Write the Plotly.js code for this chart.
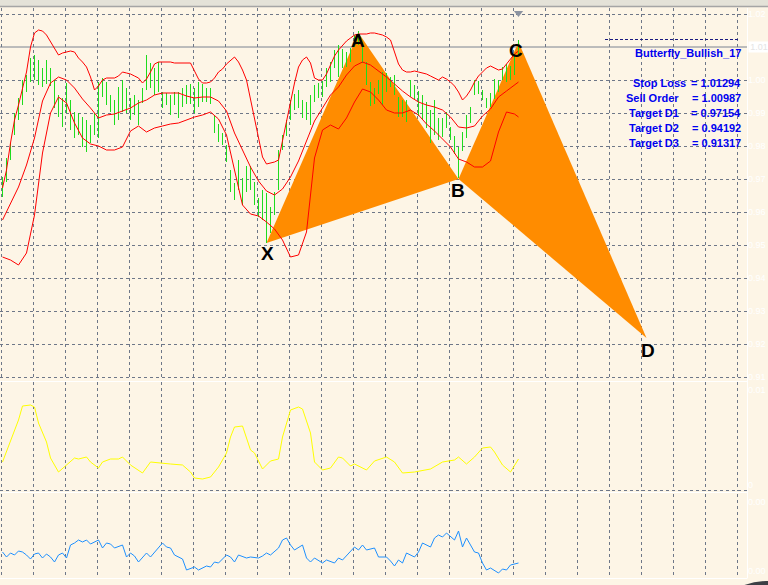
<!DOCTYPE html>
<html>
<head>
<meta charset="utf-8">
<script src="https://cdn.plot.ly/plotly-3.0.1.min.js"></script>
<style>html,body{margin:0;padding:0;background:#FDF5E6;}#chart{width:768px;height:585px;}</style>
</head>
<body>
<div id="chart"></div>
<script>
// ---------- DATA ----------
// Price bars: high / low per bar
const highs = [0.9669,0.9726,0.9771,0.9861,0.9906,0.9960,0.9975,1.0026,1.0035,1.0020,
0.9996,1.0020,0.9996,0.9960,0.9915,0.9906,0.9951,0.9900,0.9864,0.9861,
0.9849,0.9840,0.9825,0.9861,0.9954,0.9966,0.9954,0.9915,0.9900,0.9939,
0.9960,0.9936,0.9906,0.9915,0.9900,0.9936,1.0035,1.0011,0.9996,1.0014,
0.9924,0.9921,0.9915,0.9924,0.9924,0.9936,0.9945,0.9948,0.9936,0.9954,
0.9948,0.9936,0.9936,0.9855,0.9828,0.9801,0.9765,0.9690,0.9651,0.9720,
0.9666,0.9702,0.9702,0.9654,0.9606,0.9630,0.9621,0.9579,0.9624,0.9750,
0.9795,0.9840,0.9900,0.9918,0.9930,0.9900,0.9894,0.9915,0.9945,0.9951,
0.9957,0.9996,1.0014,1.0050,1.0065,1.0053,1.0044,1.0056,1.0095,1.0107,
1.0065,1.0014,0.9954,0.9936,0.9960,0.9984,0.9981,0.9969,0.9975,0.9909,
0.9900,0.9900,0.9960,0.9945,0.9927,0.9915,0.9894,0.9870,0.9900,0.9846,
0.9846,0.9864,0.9819,0.9792,0.9759,0.9804,0.9855,0.9879,0.9960,0.9957,
0.9930,0.9906,0.9921,0.9963,0.9960,0.9999,1.0008,1.0002,1.0035,1.0080];
const lows = [0.9609,0.9654,0.9720,0.9795,0.9840,0.9885,0.9924,0.9954,0.9960,0.9945,
0.9939,0.9948,0.9942,0.9876,0.9849,0.9819,0.9861,0.9810,0.9786,0.9795,
0.9759,0.9744,0.9771,0.9795,0.9786,0.9909,0.9885,0.9864,0.9825,0.9840,
0.9864,0.9861,0.9840,0.9855,0.9825,0.9891,0.9930,0.9936,0.9915,0.9924,
0.9876,0.9885,0.9855,0.9885,0.9846,0.9879,0.9888,0.9888,0.9861,0.9879,
0.9894,0.9894,0.9888,0.9801,0.9774,0.9765,0.9714,0.9624,0.9600,0.9630,
0.9585,0.9624,0.9630,0.9585,0.9549,0.9540,0.9471,0.9501,0.9555,0.9630,
0.9750,0.9792,0.9840,0.9870,0.9876,0.9846,0.9840,0.9825,0.9894,0.9906,
0.9909,0.9939,0.9954,0.9996,0.9969,0.9996,0.9999,1.0014,1.0059,1.0065,
1.0011,0.9945,0.9882,0.9888,0.9918,0.9885,0.9924,0.9939,0.9915,0.9849,
0.9849,0.9834,0.9909,0.9900,0.9852,0.9840,0.9816,0.9771,0.9795,0.9780,
0.9789,0.9816,0.9780,0.9738,0.9666,0.9747,0.9786,0.9831,0.9915,0.9918,
0.9900,0.9876,0.9879,0.9903,0.9924,0.9960,0.9954,0.9960,0.9975,1.0035];

// Upper band, every bar
const upperBand = [0.9636,0.9690,0.9771,0.9840,0.9885,0.9939,0.9984,1.0059,1.0101,1.0110,
1.0107,1.0095,1.0074,1.0053,1.0035,1.0041,1.0044,1.0047,1.0044,1.0026,
1.0014,0.9999,0.9969,0.9930,0.9942,0.9960,0.9966,0.9966,0.9966,0.9972,
0.9984,0.9981,0.9978,0.9972,0.9966,0.9951,0.9963,0.9984,1.0008,1.0014,
1.0014,1.0014,1.0014,1.0011,1.0011,1.0011,1.0011,1.0011,0.9987,0.9963,
0.9951,0.9951,0.9954,0.9966,0.9984,0.9993,1.0008,1.0020,1.0029,1.0014,
0.9990,0.9960,0.9900,0.9843,0.9789,0.9729,0.9708,0.9711,0.9714,0.9720,
0.9780,0.9834,0.9894,0.9951,0.9999,1.0020,1.0029,1.0011,0.9966,0.9960,
0.9960,0.9978,1.0005,1.0032,1.0050,1.0065,1.0077,1.0086,1.0095,1.0098,
1.0098,1.0098,1.0101,1.0101,1.0098,1.0095,1.0089,1.0080,1.0044,1.0008,
0.9990,0.9984,0.9984,0.9987,0.9984,0.9981,0.9978,0.9972,0.9966,0.9960,
0.9969,0.9963,0.9954,0.9942,0.9924,0.9900,0.9912,0.9930,0.9954,0.9972,
0.9984,0.9996,1.0002,0.9996,0.9990,0.9993,1.0008,1.0020,1.0038,1.0047];

// Middle and lower band, read every second bar
const bandIdx = [0,2,4,6,8,10,12,14,16,18,20,22,24,26,28,30,32,34,36,38,40,42,44,46,48,50,52,54,56,58,
60,62,64,66,68,70,72,74,76,78,80,82,84,86,88,90,92,94,96,98,100,102,104,106,108,110,112,114,116,118,
120,122,124,126,128,129];
const middleBand = [0.9540,0.9591,0.9639,0.9705,0.9786,0.9897,0.9951,0.9969,0.9960,0.9936,
0.9903,0.9876,0.9846,0.9855,0.9858,0.9867,0.9876,0.9891,0.9900,0.9915,
0.9921,0.9921,0.9921,0.9912,0.9906,0.9909,0.9909,0.9897,0.9867,0.9801,
0.9750,0.9699,0.9657,0.9627,0.9615,0.9633,0.9669,0.9717,0.9777,0.9837,
0.9876,0.9915,0.9939,0.9975,1.0002,1.0014,1.0005,0.9987,0.9969,0.9948,
0.9927,0.9909,0.9894,0.9885,0.9879,0.9870,0.9849,0.9819,0.9816,0.9822,
0.9852,0.9873,0.9909,0.9927,0.9945,0.9954];
const lowerBand = [0.9429,0.9420,0.9405,0.9441,0.9555,0.9741,0.9861,0.9909,0.9891,0.9831,
0.9786,0.9768,0.9762,0.9750,0.9750,0.9759,0.9807,0.9822,0.9804,0.9816,
0.9822,0.9828,0.9831,0.9840,0.9849,0.9855,0.9864,0.9843,0.9795,0.9690,
0.9585,0.9558,0.9552,0.9534,0.9513,0.9480,0.9429,0.9435,0.9504,0.9726,
0.9810,0.9825,0.9813,0.9846,0.9894,0.9933,0.9924,0.9900,0.9870,0.9861,
0.9861,0.9870,0.9855,0.9828,0.9807,0.9783,0.9759,0.9723,0.9714,0.9699,
0.9699,0.9717,0.9804,0.9864,0.9858,0.9849];

// Harmonic pattern points
const patternLabels = ['X','A','B','C','D'];
const patternIdx = [66, 89, 114, 129, 161];
const patternPrice = [0.9471, 1.0101, 0.9663, 1.0074, 0.9186];

// Current price and chart-shift marker
const currentPrice = 1.0059;
const shiftMarker = {idx: 129, price: 1.0161};

// Price-axis grid levels (the current-price level carries its own box label)
const priceGrid = [1.0158, 0.9960, 0.9861, 0.9762, 0.9663, 0.9564, 0.9465, 0.9366, 0.9267, 0.9168, 0.9069];

// Info panel
const patternName = 'Butterfly_Bullish_17';
const infoLabels = ['Stop Loss', 'Sell Order', 'Target D1', 'Target D2', 'Target D3'];
const infoValues = ['1.01294', '1.00987', '0.97154', '0.94192', '0.91317'];

// Oscillator 1 (yellow): [bar, value]
const yellowSeries = [[0,0.0029],[1,0.0039],[2,0.0051],[4,0.0071],[5,0.0085],[7,0.0086],[8,0.0084],[9,0.0068],[11,0.0049],[12,0.0033],
[14,0.0019],[16,0.0026],[18,0.0033],[19,0.0032],[21,0.0034],[22,0.0029],[24,0.0023],[25,0.0029],[27,0.0032],[29,0.0032],
[30,0.0034],[32,0.0026],[35,0.0018],[37,0.0029],[39,0.0028],[42,0.0027],[45,0.0026],[47,0.0019],[48,0.0013],[50,0.0012],
[52,0.0014],[54,0.0024],[56,0.0038],[57,0.0054],[58,0.0064],[60,0.0065],[62,0.0041],[63,0.0038],[65,0.0022],[67,0.0030],
[69,0.0032],[70,0.0054],[72,0.0081],[74,0.0084],[75,0.0082],[77,0.0058],[78,0.0029],[80,0.0021],[82,0.0023],[84,0.0034],
[85,0.0033],[87,0.0025],[88,0.0027],[91,0.0021],[93,0.0030],[96,0.0034],[98,0.0029],[100,0.0018],[103,0.0019],[106,0.0021],
[107,0.0022],[110,0.0029],[113,0.0031],[114,0.0034],[116,0.0027],[118,0.0034],[120,0.0043],[122,0.0044],[123,0.0039],[125,0.0026],
[127,0.0019],[129,0.0032]];
const yellowTicks = [0.0101, 0.0006];
const yellowTickText = ['0.01', '0'];

// Oscillator 2 (blue): [bar, value]
const blueSeries = [[0,0.00140],[1,0.00115],[2,0.00135],[3,0.00125],[4,0.00145],[5,0.00140],[6,0.00125],[7,0.00105],[8,0.00130],[9,0.00135],
[10,0.00110],[11,0.00130],[12,0.00115],[13,0.00090],[14,0.00125],[15,0.00135],[16,0.00110],[17,0.00175],[18,0.00185],[19,0.00200],
[20,0.00190],[21,0.00200],[22,0.00180],[24,0.00200],[25,0.00160],[26,0.00185],[27,0.00180],[28,0.00160],[30,0.00175],[31,0.00115],
[32,0.00135],[33,0.00120],[34,0.00090],[36,0.00135],[37,0.00115],[38,0.00140],[40,0.00185],[41,0.00165],[42,0.00160],[43,0.00125],
[45,0.00105],[46,0.00050],[48,0.00065],[49,0.00050],[51,0.00070],[52,0.00065],[53,0.00090],[54,0.00085],[56,0.00125],[57,0.00115],
[58,0.00090],[59,0.00125],[61,0.00110],[62,0.00115],[64,0.00110],[65,0.00120],[66,0.00135],[67,0.00125],[69,0.00160],[70,0.00200],
[71,0.00210],[72,0.00175],[73,0.00150],[75,0.00175],[76,0.00110],[77,0.00090],[78,0.00110],[80,0.00085],[81,0.00100],[83,0.00085],
[84,0.00110],[85,0.00100],[87,0.00140],[88,0.00165],[89,0.00150],[90,0.00175],[91,0.00150],[93,0.00160],[94,0.00115],[96,0.00115],
[97,0.00095],[98,0.00070],[99,0.00100],[100,0.00085],[101,0.00135],[103,0.00115],[104,0.00140],[105,0.00185],[107,0.00165],[108,0.00210],
[109,0.00225],[110,0.00215],[111,0.00235],[113,0.00200],[114,0.00245],[115,0.00165],[116,0.00210],[118,0.00140],[119,0.00135],[120,0.00085],
[121,0.00050],[122,0.00060],[124,0.00035],[125,0.00055],[126,0.00050],[127,0.00075],[129,0.00085]];
const blueTicks = [0.0039, 0.00045];
const blueTickText = ['0.00', '0.00'];

// ---------- STYLE / LAYOUT HELPERS ----------
const BG = '#FDF5E6';
const GRID = '#6E7788';
const FONT = 'Liberation Sans, Arial, sans-serif';
const PW = 747, PH = 570, TOP = 8;
const fx = px => px / PW;
const fy = py => 1 - (py - TOP) / PH;
const labelShift = [[1,-10],[-1,-7],[-1,-11],[-3,-8],[1,-12]];
const infoLabelX = [633, 626, 629, 629, 629];
const infoRowY = [83, 98, 113, 128, 143];

// ---------- TRACES ----------
const barIndex = highs.map((_, i) => i);
const bx = [], by = [];
barIndex.forEach(i => { bx.push(i, i, null); by.push(highs[i], lows[i], null); });

const tri = (a, b, c) => ({
  x: [patternIdx[a], patternIdx[b], patternIdx[c], patternIdx[a]],
  y: [patternPrice[a], patternPrice[b], patternPrice[c], patternPrice[a]],
  type: 'scatter', mode: 'lines', fill: 'toself', fillcolor: '#FF8C00',
  line: {width: 0, color: '#FF8C00'}, hoverinfo: 'skip', xaxis: 'x', yaxis: 'y'
});

const traces = [
  tri(0, 1, 2),
  tri(2, 3, 4),
  {x: bx, y: by, type: 'scatter', mode: 'lines', line: {color: '#1EDC1E', width: 1}, hoverinfo: 'skip'},
  {x: barIndex, y: upperBand, type: 'scatter', mode: 'lines', line: {color: '#FF0000', width: 1}},
  {x: bandIdx, y: middleBand, type: 'scatter', mode: 'lines', line: {color: '#FF0000', width: 1}},
  {x: bandIdx, y: lowerBand, type: 'scatter', mode: 'lines', line: {color: '#FF0000', width: 1}},
  {x: [shiftMarker.idx], y: [shiftMarker.price], type: 'scatter', mode: 'markers', cliponaxis: false,
   marker: {symbol: 'triangle-down', size: 8, color: '#8C93A0'}},
  {x: yellowSeries.map(p => p[0]), y: yellowSeries.map(p => p[1]), type: 'scatter', mode: 'lines',
   line: {color: '#FFFF00', width: 1}, xaxis: 'x', yaxis: 'y2'},
  {x: blueSeries.map(p => p[0]), y: blueSeries.map(p => p[1]), type: 'scatter', mode: 'lines',
   line: {color: '#1E90FF', width: 1}, xaxis: 'x', yaxis: 'y3'}
];

// ---------- ANNOTATIONS ----------
const annotations = [];
patternLabels.forEach((t, k) => {
  annotations.push({x: patternIdx[k], y: patternPrice[k], xref: 'x', yref: 'y', text: '<b>' + t + '</b>',
    showarrow: false, xanchor: 'center', yanchor: 'middle', xshift: labelShift[k][0], yshift: labelShift[k][1],
    font: {family: FONT, size: 19, color: '#000000'}});
});
annotations.push({x: fx(743), y: fy(53), xref: 'paper', yref: 'paper', text: '<b>' + patternName + '</b>',
  showarrow: false, xanchor: 'right', yanchor: 'middle', font: {family: FONT, size: 11, color: '#0000F0'}});
infoLabels.forEach((t, k) => {
  annotations.push({x: fx(infoLabelX[k] - 2), y: fy(infoRowY[k]), xref: 'paper', yref: 'paper', text: '<b>' + t + '</b>',
    showarrow: false, xanchor: 'left', yanchor: 'middle', font: {family: FONT, size: 11, color: '#0000F0'}});
  annotations.push({x: fx(743), y: fy(infoRowY[k]), xref: 'paper', yref: 'paper', text: '<b>= ' + infoValues[k] + '</b>',
    showarrow: false, xanchor: 'right', yanchor: 'middle', font: {family: FONT, size: 11, color: '#0000F0'}});
});
annotations.push({x: fx(747.5), y: currentPrice, xref: 'paper', yref: 'y', text: currentPrice.toFixed(2),
  showarrow: false, xanchor: 'left', yanchor: 'middle', bgcolor: '#FFFFFF', borderpad: 0, width: 20,
  font: {family: FONT, size: 9, color: '#E4E4E4'}});

// ---------- SHAPES ----------
const shapes = [
  {type: 'rect', xref: 'paper', yref: 'paper', x0: 0, x1: fx(768), y0: fy(6), y1: fy(0), fillcolor: '#E4E2D8', line: {width: 0}},
  {type: 'line', xref: 'paper', yref: 'paper', x0: 0, x1: fx(768), y0: fy(6.5), y1: fy(6.5), line: {color: '#A5A5A5', width: 1.5}},
  {type: 'line', xref: 'paper', yref: 'y', x0: 0, x1: 1, y0: currentPrice, y1: currentPrice, layer: 'below', line: {color: '#7A8290', width: 1}},
  {type: 'line', xref: 'paper', yref: 'y2', x0: 0, x1: 1, y0: 0.00005, y1: 0.00005, line: {color: GRID, width: 1, dash: '3px,3px'}},
  {type: 'line', xref: 'paper', yref: 'paper', x0: 0, x1: 1, y0: fy(381.5), y1: fy(381.5), line: {color: '#FFFFFF', width: 1}},
  {type: 'line', xref: 'paper', yref: 'paper', x0: 0, x1: 1, y0: fy(492.5), y1: fy(492.5), line: {color: '#FFFFFF', width: 1}},
  {type: 'line', xref: 'paper', yref: 'paper', x0: 0, x1: 1, y0: fy(578.5), y1: fy(578.5), line: {color: '#FFFFFF', width: 1}},
  {type: 'line', xref: 'paper', yref: 'paper', x0: fx(747.5), x1: fx(747.5), y0: fy(578.5), y1: fy(8), line: {color: '#FFFFFF', width: 1}},
  {type: 'line', xref: 'paper', yref: 'paper', x0: fx(605), x1: fx(739), y0: fy(39.5), y1: fy(39.5), line: {color: '#1A1A80', width: 1, dash: '3px,2px'}},
  {type: 'circle', xref: 'paper', yref: 'paper', x0: fx(706), x1: fx(826), y0: fy(701), y1: fy(581), fillcolor: '#3C3F45', line: {width: 0}}
];

// ---------- LAYOUT ----------
const tickFont = {family: FONT, size: 9, color: '#FFFFFF'};
const layout = {
  width: 768, height: 585,
  margin: {l: 0, r: 21, t: 8, b: 7, pad: 0},
  paper_bgcolor: BG, plot_bgcolor: BG,
  showlegend: false,
  font: {family: FONT},
  xaxis: {range: [-0.625, 186.125], domain: [0, 1], anchor: 'y3', tickmode: 'linear', tick0: -0.25, dtick: 8,
    showgrid: true, gridcolor: GRID, griddash: '3px,3px', gridwidth: 1, showticklabels: false, ticks: '',
    zeroline: false, showline: false, fixedrange: true},
  yaxis: {domain: [fy(380), 1], range: [0.9060, 1.0176], side: 'right', anchor: 'x', tickmode: 'array',
    tickvals: priceGrid, tickformat: '.2f', showgrid: true, gridcolor: GRID, griddash: '3px,3px', gridwidth: 1,
    zeroline: false, showline: false, ticks: '', tickfont: tickFont, fixedrange: true},
  yaxis2: {domain: [fy(491), fy(382)], range: [0, 0.0109], side: 'right', anchor: 'x', tickmode: 'array',
    tickvals: yellowTicks, ticktext: yellowTickText, showgrid: false, zeroline: false, showline: false, ticks: '',
    tickfont: tickFont, fixedrange: true},
  yaxis3: {domain: [0, fy(494)], range: [0.0001, 0.0043], side: 'right', anchor: 'x', tickmode: 'array',
    tickvals: blueTicks, ticktext: blueTickText, showgrid: false, zeroline: false, showline: false, ticks: '',
    tickfont: tickFont, fixedrange: true},
  annotations: annotations,
  shapes: shapes
};

Plotly.newPlot('chart', traces, layout, {staticPlot: true, displayModeBar: false});
</script>
</body>
</html>
